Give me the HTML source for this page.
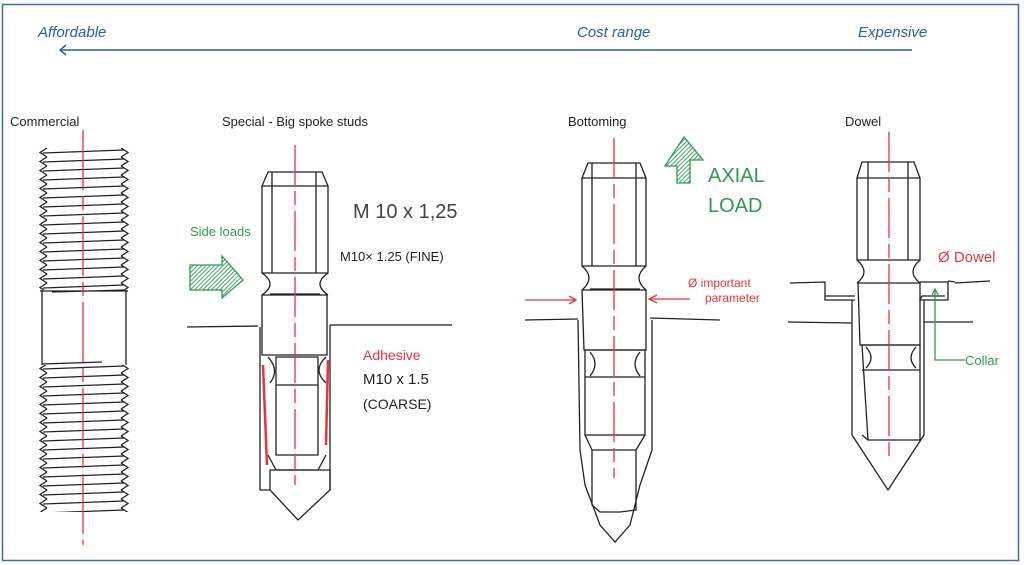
<!DOCTYPE html>
<html><head><meta charset="utf-8"><style>
html,body{margin:0;padding:0;background:#fff;}
svg{display:block;}
text{font-family:"Liberation Sans",sans-serif;}
</style></head><body>
<svg width="1024" height="565" viewBox="0 0 1024 565" xmlns="http://www.w3.org/2000/svg">
<defs>
<pattern id="thr" patternUnits="userSpaceOnUse" x="38" y="148" width="92" height="9">
<path d="M9 0 L2 4.5 L9 9" fill="none" stroke="#222" stroke-width="1.3"/>
<path d="M83 0 L90 4.5 L83 9" fill="none" stroke="#222" stroke-width="1.3"/>
<path d="M5 5 L86 2" stroke="#222" stroke-width="1.3"/>
</pattern>
<pattern id="hatch" patternUnits="userSpaceOnUse" width="3" height="3" patternTransform="rotate(45)">
<line x1="0" y1="0" x2="0" y2="3" stroke="#2e9a4e" stroke-width="1.8"/>
</pattern>
</defs>
<rect x="2.5" y="4.5" width="1016" height="556" fill="none" stroke="#3a6fa8" stroke-width="1.5"/>
<text x="38" y="37" font-size="15" fill="#2a5fa0" font-style="italic">Affordable</text>
<text x="577" y="37" font-size="15" fill="#2a5fa0" font-style="italic">Cost range</text>
<text x="858" y="37" font-size="15" fill="#2a5fa0" font-style="italic">Expensive</text>
<line x1="60" y1="50" x2="912" y2="50" stroke="#2a5fa0" stroke-width="1.5"/>
<path d="M66 45 L60 50 L66 55" fill="none" stroke="#2a5fa0" stroke-width="1.5"/>

<g fill="none" stroke="#222" stroke-width="1.3">
<rect x="38" y="148" width="92" height="142" fill="url(#thr)" stroke="none"/>
<rect x="38" y="365" width="92" height="147" fill="url(#thr)" stroke="none"/>
<path d="M42 290 L42 365 M126 290 L126 365 M40 291 L128 291 M52 292 L125 290 M42 364 L102 362"/>
<path d="M262 186 L268 172 L322 172 L328 186 Z M262 186 L262 273 L328 273 L328 186 M272 172 L272 273 M316 172 L316 273"/>
<path d="M262 273 Q278 284 262 295 M328 273 Q312 284 328 295 M270 294 L320 294"/>
<path d="M262 295 L327 295 L327 355 L262 355 Z"/>
<path d="M187 327 L258 326 M330 325 L452 325 M260 327 L260 490 L270 490 M330 325 L330 490"/>
<path d="M276 357 L318 357 L318 455 L276 455 Z M276 385 L318 385 M268 357 Q280 370 270 383 M326 357 Q312 370 326 383 M268 455 L276 470 M326 455 L318 470 L276 470"/>
<path d="M270 470 L330 470 L330 490 L298 520 L270 490 Z"/>
<path d="M582 178 L588 163 L640 163 L646 178 Z M582 178 L582 266 L646 266 L646 178 M592 163 L592 266 M636 163 L636 266"/>
<path d="M582 266 Q596 278 582 290 M646 266 Q632 278 646 290 M590 289 L640 289"/>
<path d="M582 290 L646 290 L646 350 L584 350 Z"/>
<path d="M525 320 L578 319 M650 318 L720 320"/>
<path d="M578 320 L580 450 L585 485 L600 525 L615 542 L630 525 L640 485 L652 450 L652 320"/>
<path d="M585 350 L645 350 L645 435 L585 435 Z M585 377 L645 377 M590 352 Q600 364 590 376 M640 352 Q630 364 640 376"/>
<path d="M585 435 L592 450 M645 435 L636 450 M592 450 L636 450 L636 510 L620 512 L600 512 L592 505 Z"/>
<path d="M857 178 L862 162 L914 162 L920 178 Z M857 178 L857 260 L920 260 L920 178 M868 162 L868 260 M908 162 L908 260"/>
<path d="M857 260 Q871 272 857 283 M920 260 Q906 272 920 283"/>
<path d="M858 283 L920 283 L920 345 L860 345 Z"/>
<path d="M790 283 L825 282 L825 300 L855 300 M825 296 L855 296 M920 282 L948 282 L948 300 L920 300 L922 296 L945 296 M955 283 L990 281 M948 281 L955 282"/>
<path d="M788 322 L852 323 M924 322 L973 322"/>
<path d="M852 300 L852 435 L888 490 L924 435 L924 300"/>
<path d="M862 345 L920 345 L920 440 L868 440 Z M862 370 L920 370 M866 347 Q876 358 866 368 M916 347 Q906 358 916 368 M862 435 L868 440"/>
</g>
<g stroke="#e8323c" stroke-width="1.3" fill="none">
<line x1="83" y1="130" x2="83" y2="545" stroke-dasharray="60 6 14 6"/>
<line x1="295" y1="145" x2="295" y2="485" stroke-dasharray="40 6 14 6"/>
<line x1="614" y1="138" x2="614" y2="478" stroke-dasharray="40 6 14 6"/>
<line x1="889" y1="132" x2="889" y2="462" stroke-dasharray="40 6 14 6"/>
<path d="M263 365 L267 465" stroke-width="2.5"/>
<path d="M328 360 L326 445" stroke-width="2.5"/>
<path d="M525 300 L575 300 M569 296 L576 300 L569 304 M690 299 L650 299 M657 295 L649 299 L657 303"/>
</g>
<path d="M190 265 L222 265 L222 256 L243 280 L222 298 L222 290 L190 290 Z" fill="url(#hatch)" stroke="#2e9a4e" stroke-width="1.3"/>
<path d="M677 183 L677 166 L665 166 L684 137 L703 160 L690 160 L690 183 Z" fill="url(#hatch)" stroke="#2e9a4e" stroke-width="1.3"/>
<path d="M965 360 L935 360 L935 290 M931 297 L935 289 L939 297" fill="none" stroke="#2e9a4e" stroke-width="1.3"/>
<g fill="#222" font-size="14">
<text x="10" y="126" font-size="13">Commercial</text>
<text x="222" y="126" font-size="13">Special - Big spoke studs</text>
<text x="568" y="126" font-size="13">Bottoming</text>
<text x="845" y="126" font-size="13">Dowel</text>
<text x="353" y="218" font-size="20" fill="#444">M 10 x 1,25</text>
<text x="340" y="261" font-size="13">M10× 1.25 (FINE)</text>
<text x="363" y="384" font-size="15">M10 x 1.5</text>
<text x="363" y="409" font-size="14">(COARSE)</text>
</g>
<text x="190" y="236" font-size="13" fill="#2e9a4e">Side loads</text>
<text x="708" y="182" font-size="20" fill="#2e9a4e">AXIAL</text>
<text x="708" y="212" font-size="20" fill="#2e9a4e">LOAD</text>
<text x="965" y="365" font-size="13" fill="#2e9a4e">Collar</text>
<text x="363" y="360" font-size="14" fill="#e8323c">Adhesive</text>
<text x="688" y="287" font-size="12" fill="#e8323c">Ø important</text>
<text x="705" y="302" font-size="12" fill="#e8323c">parameter</text>
<text x="938" y="262" font-size="15" fill="#e8323c">Ø Dowel</text>
</svg>
</body></html>
